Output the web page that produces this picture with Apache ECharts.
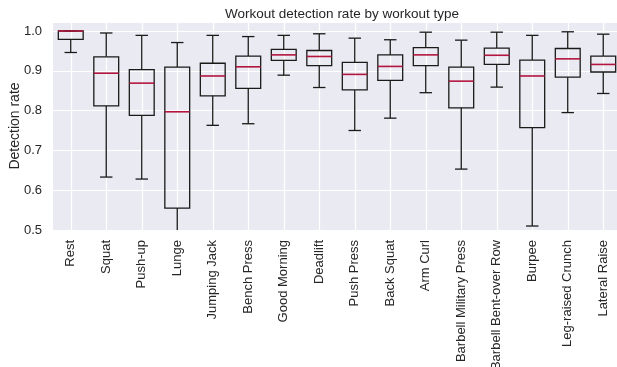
<!DOCTYPE html>
<html>
<head>
<meta charset="utf-8">
<script src="https://cdn.jsdelivr.net/npm/echarts@6/dist/echarts.min.js"></script>
<style>html,body{margin:0;padding:0;background:#fff}#c{width:617px;height:367px}</style>
</head>
<body>
<div id="c"></div>
<script>
const categories = ["Rest","Squat","Push-up","Lunge","Jumping Jack","Bench Press","Good Morning","Deadlift","Push Press","Back Squat","Arm Curl","Barbell Military Press","Barbell Bent-over Row","Burpee","Leg-raised Crunch","Lateral Raise"];
const lowerWhisker = [0.946,0.633,0.628,0.480,0.763,0.767,0.889,0.858,0.750,0.781,0.845,0.653,0.859,0.510,0.795,0.843];
const q1Values     = [0.979,0.812,0.788,0.555,0.837,0.856,0.926,0.913,0.852,0.876,0.913,0.807,0.916,0.757,0.884,0.897];
const medianValues = [1.000,0.894,0.869,0.797,0.887,0.910,0.940,0.936,0.891,0.911,0.940,0.874,0.939,0.887,0.930,0.916];
const q3Values     = [1.000,0.935,0.903,0.909,0.919,0.937,0.954,0.951,0.921,0.940,0.958,0.909,0.957,0.927,0.956,0.937];
const upperWhisker = [1.000,0.995,0.989,0.971,0.989,0.986,0.989,0.993,0.982,0.978,0.997,0.977,0.997,0.989,0.998,0.992];
const yTicks = [0.5,0.6,0.7,0.8,0.9,1.0];

const boxData = categories.map((c, i) => [i, lowerWhisker[i], q1Values[i], medianValues[i], q3Values[i], upperWhisker[i]]);

const chart = echarts.init(document.getElementById('c'), null, {renderer: 'canvas'});
const FONT = '"Liberation Sans", Arial, sans-serif';

function renderBox(params, api) {
  const idx = api.value(0);
  const band = api.size([1, 0])[0];
  const bw = band * 0.7;
  const cw = bw * 0.5;
  const pLo = api.coord([idx, api.value(1)]);
  const pQ1 = api.coord([idx, api.value(2)]);
  const pMed = api.coord([idx, api.value(3)]);
  const pQ3 = api.coord([idx, api.value(4)]);
  const pHi = api.coord([idx, api.value(5)]);
  const x = pQ1[0];
  const black = {stroke: '#1a1a1a', lineWidth: 1.3, fill: null};
  const children = [
    {type: 'line', shape: {x1: x, y1: pQ3[1], x2: x, y2: pHi[1]}, style: black},
    {type: 'line', shape: {x1: x, y1: pQ1[1], x2: x, y2: pLo[1]}, style: black},
    {type: 'line', shape: {x1: x - cw/2, y1: pHi[1], x2: x + cw/2, y2: pHi[1]}, style: black},
    {type: 'line', shape: {x1: x - cw/2, y1: pLo[1], x2: x + cw/2, y2: pLo[1]}, style: black},
    {type: 'rect', shape: {x: x - bw/2, y: pQ3[1], width: bw, height: pQ1[1] - pQ3[1]}, style: {stroke: '#1a1a1a', lineWidth: 1.3, fill: 'none'}},
    {type: 'line', shape: {x1: x - bw/2, y1: pMed[1], x2: x + bw/2, y2: pMed[1]}, style: {stroke: '#B2163E', lineWidth: 1.6}}
  ];
  return {type: 'group', children: children};
}

chart.setOption({
  animation: false,
  backgroundColor: '#ffffff',
  title: {
    text: 'Workout detection rate by workout type',
    left: 337, top: 2, textAlign: 'center',
    textStyle: {fontFamily: FONT, fontSize: 13.5, fontWeight: 'normal', color: '#262626'}
  },
  grid: {
    left: 53, right: -4, top: 22, bottom: 137,
    outerBoundsMode: 'none', containLabel: false,
    show: true, backgroundColor: '#EAEAF2', borderWidth: 0
  },
  xAxis: {
    type: 'category',
    data: categories,
    boundaryGap: true,
    axisLine: {show: false},
    axisTick: {show: false},
    axisLabel: {interval: 0, rotate: 90, margin: 10, fontFamily: FONT, fontSize: 13, color: '#262626'},
    splitLine: {show: true, interval: 0, alignWithLabel: true, lineStyle: {color: '#ffffff', width: 1.2}}
  },
  yAxis: {
    type: 'value',
    min: 0.5, max: 1.0226, interval: 0.1,
    name: 'Detection rate',
    nameLocation: 'middle', nameGap: 31, nameMoveOverlap: false,
    nameTextStyle: {fontFamily: FONT, fontSize: 14, color: '#262626'},
    axisLine: {show: false},
    axisTick: {show: false},
    axisLabel: {
      margin: 11, fontFamily: FONT, fontSize: 13, color: '#262626',
      formatter: function (v) { return yTicks.some(t => Math.abs(t - v) < 1e-6) ? v.toFixed(1) : ''; }
    },
    splitLine: {show: true, lineStyle: {color: '#ffffff', width: 1.2}}
  },
  series: [{
    type: 'custom',
    renderItem: renderBox,
    encode: {x: 0, y: [1, 2, 3, 4, 5]},
    data: boxData,
    clip: true
  }]
});
</script>
</body>
</html>
